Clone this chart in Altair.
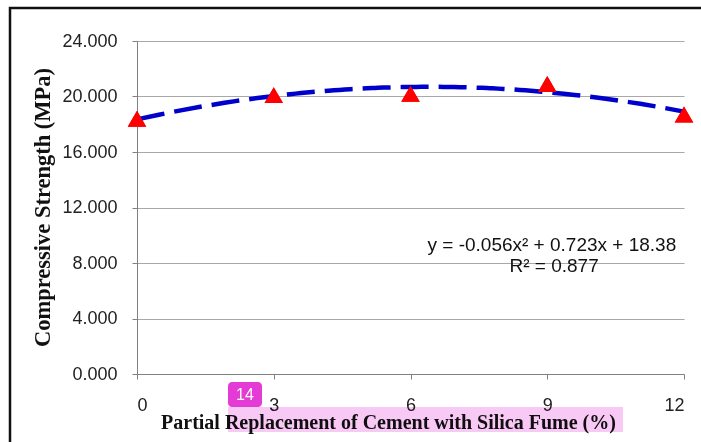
import altair as alt
import pandas as pd

# data
replacement_pct = [0, 3, 6, 9, 12]
strength_mpa = [18.4, 20.1, 20.2, 20.9, 18.7]
x_ticks = [0, 3, 6, 9, 12]
y_ticks = [0, 4, 8, 12, 16, 20, 24]
eq_text = ["y = -0.056x\u00b2 + 0.723x + 18.38"]
eq_x = [11.83]
eq_y = [9.3]
r2_text = ["R\u00b2 = 0.877"]
r2_x = [9.15]
r2_y = [7.78]
badge_label = ["14"]

df = pd.DataFrame({"x": replacement_pct, "y": strength_mpa})
eq_df = pd.DataFrame({"t": eq_text, "x": eq_x, "y": eq_y})
r2_df = pd.DataFrame({"t": r2_text, "x": r2_x, "y": r2_y})
one = pd.DataFrame({"t": badge_label})

W, H = 547, 333

xs = alt.Scale(domain=[0, 12], nice=False, zero=False)
ys = alt.Scale(domain=[0, 24], nice=False)

x_axis = alt.Axis(values=x_ticks, format="d", title="Partial Replacement of Cement with Silica Fume (%)",
                  grid=False, domainColor="#808080", tickColor="#808080", tickSize=5,
                  labelPadding=17, labelFont="Liberation Sans", labelFontSize=18, labelColor="#222",
                  titleFont="Liberation Serif", titleFontSize=20, titleFontWeight="bold", titleColor="#111",
                  titleBaseline="alphabetic", titleY=54, titleX=251, titleAlign="center")
y_axis = alt.Axis(values=y_ticks, format=".3f", title="Compressive Strength (MPa)",
                  grid=True, gridColor="#a8a8a8", gridWidth=1,
                  domainColor="#808080", tickColor="#808080", tickSize=5,
                  labelPadding=15, labelFont="Liberation Sans", labelFontSize=18, labelColor="#222",
                  titleFont="Liberation Serif", titleFontSize=22.5, titleFontWeight="bold", titleColor="#111",
                  titleX=-95, titleY=166, titleBaseline="middle", titleAngle=270, titleAlign="center")

base = alt.Chart(df)

points = base.mark_point(shape="triangle-up", filled=True, size=340, color="#ff0000", opacity=1).encode(
    x=alt.X("x:Q", scale=xs, axis=x_axis),
    y=alt.Y("y:Q", scale=ys, axis=y_axis),
)

trend = base.transform_regression("x", "y", method="poly", order=2, extent=[0, 12]).mark_line(
    color="#0000cc", strokeWidth=4.5, strokeDash=[28, 10]
).encode(x=alt.X("x:Q", scale=xs), y=alt.Y("y:Q", scale=ys))

eq = alt.Chart(eq_df).mark_text(font="Liberation Sans", fontSize=19, color="#111", baseline="middle",
                                align="right").encode(
    x=alt.X("x:Q", scale=xs), y=alt.Y("y:Q", scale=ys), text="t:N"
)
r2 = alt.Chart(r2_df).mark_text(font="Liberation Sans", fontSize=19, color="#111", baseline="middle",
                                align="center").encode(
    x=alt.X("x:Q", scale=xs), y=alt.Y("y:Q", scale=ys), text="t:N"
)

frame = alt.Chart(one).mark_rect(fill=None, stroke="#111", strokeWidth=2.5).encode(
    x=alt.value(-127), x2=alt.value(620), y=alt.value(-33), y2=alt.value(420)
)

highlight = alt.Chart(one).mark_rect(fill="#f7c9f4", opacity=1, blend="multiply").encode(
    x=alt.value(91), x2=alt.value(486), y=alt.value(366), y2=alt.value(391)
)
badge = alt.Chart(one).mark_rect(fill="#e43ad6", cornerRadius=4).encode(
    x=alt.value(91), x2=alt.value(125), y=alt.value(341), y2=alt.value(366)
)
badge_text = alt.Chart(one).mark_text(
    font="Liberation Sans", fontSize=16, color="white", align="center", baseline="middle"
).encode(x=alt.value(108), y=alt.value(354), text="t:N")

chart = alt.layer(points, trend, points, eq, r2, highlight, frame, badge, badge_text).properties(
    width=W, height=H,
    autosize=alt.AutoSizeParams(type="none"),
    padding={"left": 137, "top": 41, "right": 17, "bottom": 68},
).configure(background="white").configure_view(stroke=None)

chart.save("out.html", embed_options={"renderer": "svg", "actions": False})
